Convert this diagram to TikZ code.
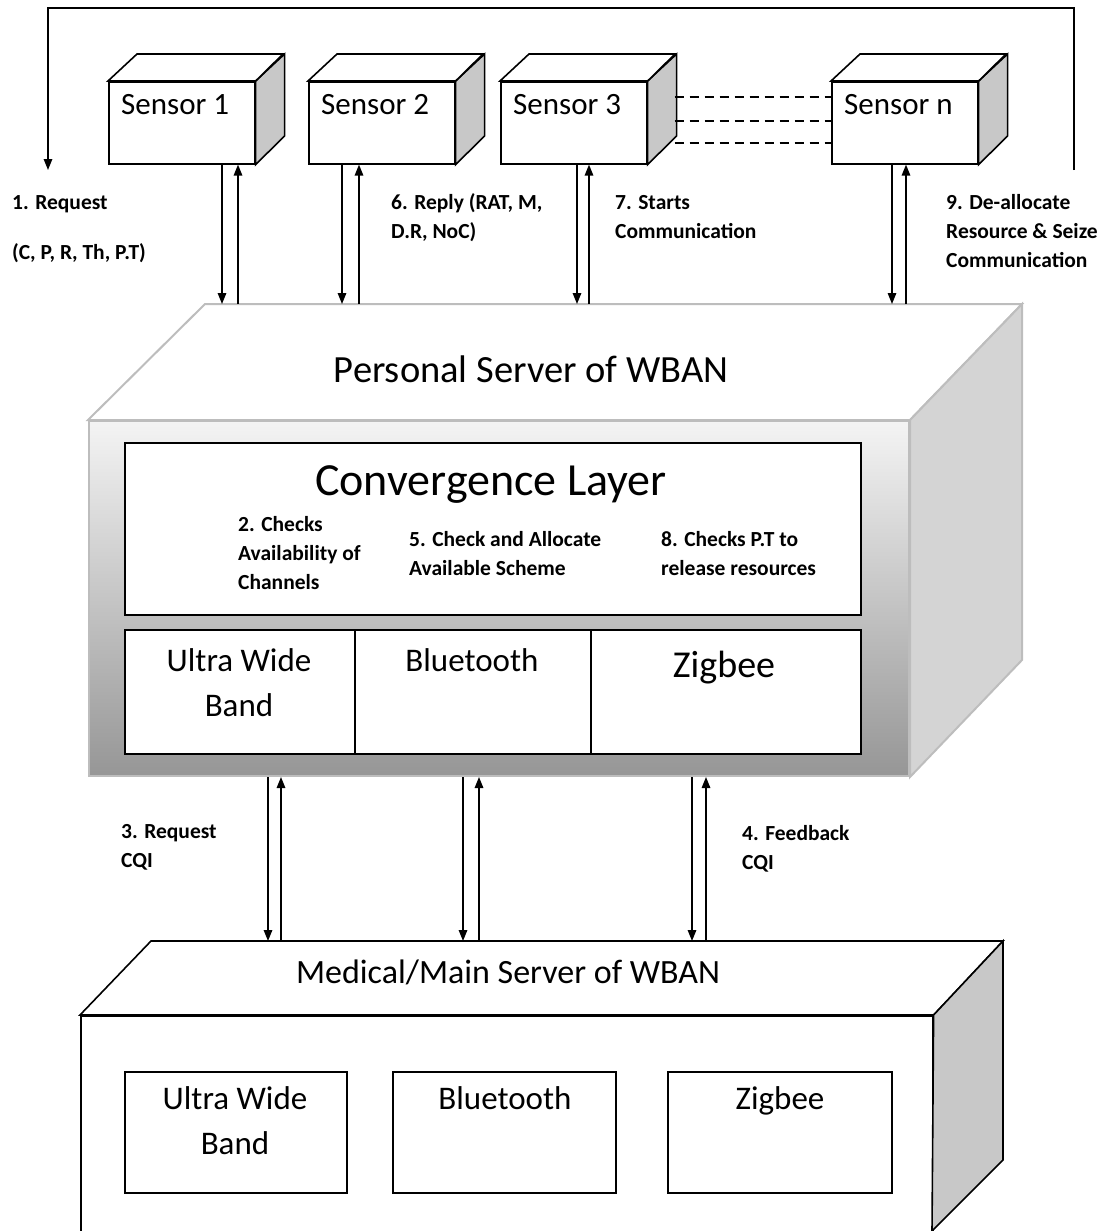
\documentclass[tikz,border=0pt]{standalone}
\usepackage{fontspec}
\setmainfont{Carlito}
\usetikzlibrary{arrows.meta}
\definecolor{sidegray}{HTML}{C8C8C8}
\definecolor{psborder}{HTML}{BDBDBD}
\definecolor{psside}{HTML}{D4D4D4}
\definecolor{pstop}{HTML}{F4F4F4}
\definecolor{psbot}{HTML}{969696}
\begin{document}
\begin{tikzpicture}[x=1pt,y=-1pt,
  outl/.style={draw=black, line width=1.6pt, line join=miter},
  frontbox/.style={outl, fill=white, inner sep=0pt, anchor=north west},
  sidebox/.style={outl, fill=sidegray},
  topbox/.style={outl, fill=white},
  arr/.style={draw=black, line width=1.5pt, line join=miter, -{Triangle[length=11pt,width=8.5pt]}},
  dashline/.style={draw=black, line width=1.5pt, dash pattern=on 9pt off 6pt},
  small/.style={font=\fontsize{21.5}{29}\selectfont\bfseries, align=left, anchor=base west, inner sep=0pt},
  big/.style={inner sep=0pt, anchor=base},
  psline/.style={draw=psborder, line width=2pt, line join=miter},
]
\useasboundingbox (0,0) rectangle (1111,1231);
\clip (0,0) rectangle (1111,1231);

% ---------- sensors ----------
\foreach \nm/\L/\txt in {s1/108/Sensor 1, s2/308/Sensor 2, s3/500/Sensor 3, sn/831/Sensor n}{
  \node[frontbox, minimum width=146pt, minimum height=82pt] (\nm) at (\L,81) {};
  \draw[sidebox] (\nm.north east) -- ++(29,-27) -- ++(0,82) -- (\nm.south east) -- cycle;
  \draw[topbox] (\nm.north west) -- ++(29,-27) -- ++(146,0) -- (\nm.north east) -- cycle;
  \node[font=\fontsize{31}{36}\selectfont, anchor=base west, inner sep=0pt] (\nm-t) at (\L+13,114) {\txt};
}

% dashed links sensor 3 -- sensor n
\draw[dashline] ([xshift=27pt,yshift=26pt]s3.east) -- ([yshift=26pt]sn.west);
\draw[dashline] ([xshift=27pt,yshift=2pt]s3.east) -- ([yshift=2pt]sn.west);
\draw[dashline] ([xshift=27pt,yshift=-20pt]s3.east) -- ([yshift=-20pt]sn.west);

% feedback loop
\coordinate (fbR) at (1074,170);
\coordinate (fbL) at (48,170);
\draw[arr] (fbR) -- (1074,8) -- (48,8) -- (fbL);

% ---------- personal server ----------
\coordinate (pstopc) at (205,304);
\node[psline, top color=pstop, bottom color=psbot, minimum width=820pt, minimum height=355pt, anchor=north west, inner sep=0pt] (ps) at (88,420) {};
\draw[psline, fill=white] (ps.north west) -- (pstopc) -- (1022,304) -- (ps.north east) -- cycle;
\draw[psline, fill=psside] (ps.north east) -- (1022,304) -- (1022,660) -- (ps.south east) -- cycle;
\node[big, font=\fontsize{38.5}{46}\selectfont] (pstitle) at (531,382) {Personal Server of WBAN};

\node[frontbox, minimum width=736pt, minimum height=172pt] (cl) at (124,442) {};
\node[big, font=\fontsize{46}{54}\selectfont] (cltitle) at (491,495) {Convergence Layer};
\node[small] (l2) at (238,589) {2. Checks\\Availability of\\Channels};
\node[small] (l5) at (409,575) {5. Check and Allocate\\Available Scheme};
\node[small] (l8) at (661,575) {8. Checks P.T to\\release resources};

\node[frontbox, minimum width=230pt, minimum height=124pt] (uwbA) at (124,629) {};
\node[frontbox, minimum width=236pt, minimum height=124pt] (btA) at (354,629) {};
\node[frontbox, minimum width=270pt, minimum height=124pt] (zbA) at (590,629) {};
\node[big, font=\fontsize{33}{45}\selectfont, align=center] (uwbAt) at (239,716) {Ultra Wide\\Band};
\node[big, font=\fontsize{33}{45}\selectfont] (btAt) at (472,671) {Bluetooth};
\node[big, font=\fontsize{38}{45}\selectfont] (zbAt) at (724,677) {Zigbee};

% sensor <-> personal server arrows
\draw[arr] (222,0 |- s1.south) -- (222,0 |- pstopc);
\draw[arr] (238,0 |- pstopc) -- (238,0 |- s1.south);
\draw[arr] (342,0 |- s2.south) -- (342,0 |- pstopc);
\draw[arr] (359,0 |- pstopc) -- (359,0 |- s2.south);
\draw[arr] (577,0 |- s3.south) -- (577,0 |- pstopc);
\draw[arr] (589,0 |- pstopc) -- (589,0 |- s3.south);
\draw[arr] (892,0 |- sn.south) -- (892,0 |- pstopc);
\draw[arr] (906,0 |- pstopc) -- (906,0 |- sn.south);

% top labels
\node[small] (l1) at (12,259) {1. Request\\[21pt](C, P, R, Th, P.T)};
\node[small] (l6) at (391,238) {6. Reply (RAT, M,\\D.R, NoC)};
\node[small] (l7) at (615,238) {7. Starts\\Communication};
\node[small] (l9) at (946,267) {9. De-allocate\\Resource \& Seize\\Communication};

% ---------- medical server ----------
\coordinate (mstop) at (151,941);
\node[frontbox, minimum width=852pt, minimum height=260pt] (ms) at (80,1015) {};
\draw[topbox] (ms.north west) -- (mstop) -- (1003,941) -- (ms.north east) -- cycle;
\draw[sidebox] (ms.north east) -- (1003,941) -- (1003,1160) -- (932,1231) -- cycle;
\node[big, font=\fontsize{34}{40}\selectfont] (mstitle) at (508,983) {Medical/Main Server of WBAN};

\node[frontbox, minimum width=222pt, minimum height=121pt] (uwbB) at (124,1071) {};
\node[frontbox, minimum width=223pt, minimum height=121pt] (btB) at (392,1071) {};
\node[frontbox, minimum width=224pt, minimum height=121pt] (zbB) at (667,1071) {};
\node[big, font=\fontsize{33}{45}\selectfont, align=center] (uwbBt) at (235,1154) {Ultra Wide\\Band};
\node[big, font=\fontsize{33}{45}\selectfont] (btBt) at (505,1109) {Bluetooth};
\node[big, font=\fontsize{33}{45}\selectfont] (zbBt) at (780,1109) {Zigbee};

% personal server <-> medical server arrows
\draw[arr] (268,0 |- ps.south) -- (268,0 |- mstop);
\draw[arr] (281,0 |- mstop) -- (281,0 |- ps.south);
\draw[arr] (463,0 |- ps.south) -- (463,0 |- mstop);
\draw[arr] (479,0 |- mstop) -- (479,0 |- ps.south);
\draw[arr] (692,0 |- ps.south) -- (692,0 |- mstop);
\draw[arr] (706,0 |- mstop) -- (706,0 |- ps.south);

\node[small] (l3) at (121,867) {3. Request\\CQI};
\node[small] (l4) at (742,869) {4. Feedback\\CQI};
\end{tikzpicture}
\end{document}
